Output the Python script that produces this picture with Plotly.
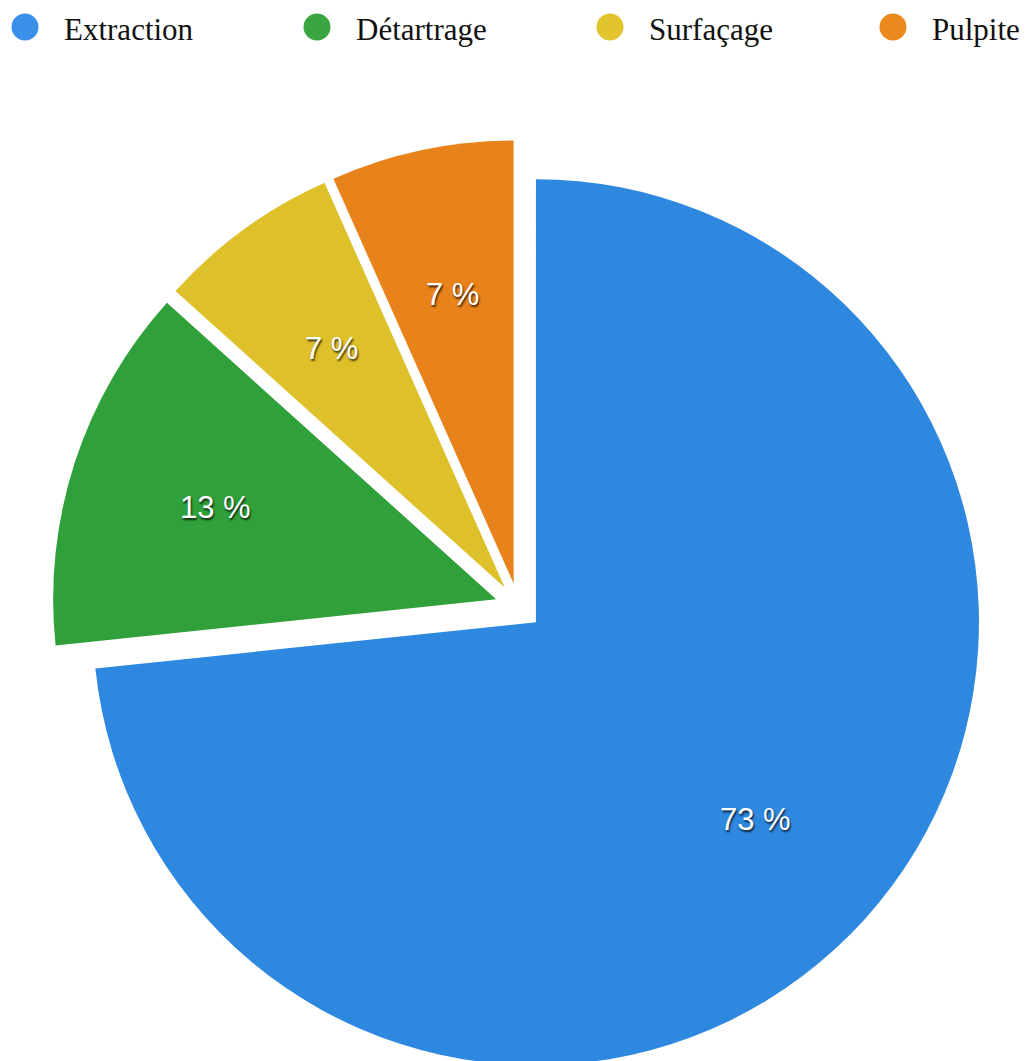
import math
import plotly.graph_objects as go

# ---- data ----
categories = ["Extraction", "Détartrage", "Surfaçage", "Pulpite"]
counts = [11, 2, 1, 1]
colors = ["#2E88E0", "#2FA03A", "#DEC02A", "#E8821A"]
legend_colors = ["#3A8FE8", "#3AA642", "#E2C42C", "#EA8A1E"]

total = sum(counts)
labels_text = [f"{round(v / total * 100)} %" for v in counts]

PULL = 0.053
W, H = 1022, 1065
ML, MR, MT, MB = 44, 45, 132, 0
PW, PH = W - ML - MR, H - MT - MB


def xp(px):
    return (px - ML) / PW


def yp(py):
    return (H - MB - py) / PH


fig = go.Figure()
fig.add_trace(go.Pie(
    labels=categories,
    values=counts,
    text=labels_text,
    textinfo="none",
    sort=False,
    direction="clockwise",
    rotation=0,
    pull=[PULL] * len(counts),
    marker=dict(colors=colors, line=dict(width=0)),
    showlegend=False,
    hoverinfo="label+percent",
))

# percentage labels placed at 2/3 of the radius along each slice's mid-angle
pie_r = min(PW, PH) / (2 + 2 * PULL)
cx, cy = ML + PW / 2, MT + PH / 2
annotations, shapes = [], []
cum = 0
for i, v in enumerate(counts):
    mid = (cum + v / 2) / total * 2 * math.pi
    cum += v
    dist = (PULL + 0.667) * pie_r
    tx = cx + dist * math.sin(mid)
    ty = cy - dist * math.cos(mid)
    annotations.append(dict(text=labels_text[i], xref="paper", yref="paper",
                            x=xp(tx), y=yp(ty), xanchor="center", yanchor="middle",
                            showarrow=False,
                            font=dict(family="Liberation Sans, Arial, sans-serif", size=31,
                                      color="white",
                                      shadow="1px 2px 2px rgba(0,0,0,0.75)")))

# legend drawn as circles + labels
leg_cx = [17, 309, 602, 885]
for i, name in enumerate(categories):
    lx, ly, r = leg_cx[i], 19, 13.5
    shapes.append(dict(type="circle", xref="paper", yref="paper",
                       x0=xp(lx - r), x1=xp(lx + r), y0=yp(ly + r), y1=yp(ly - r),
                       fillcolor=legend_colors[i], line=dict(width=0)))
    annotations.append(dict(text=name, xref="paper", yref="paper",
                            x=xp(lx + 37), y=yp(22), xanchor="left", yanchor="middle",
                            showarrow=False,
                            font=dict(family="Liberation Serif, Times New Roman, serif",
                                      size=31, color="#111111")))

fig.update_layout(
    width=W, height=H,
    margin=dict(l=ML, r=MR, t=MT, b=MB),
    paper_bgcolor="white", plot_bgcolor="white",
    shapes=shapes, annotations=annotations,
    showlegend=False,
)

fig.write_html("out.html")
